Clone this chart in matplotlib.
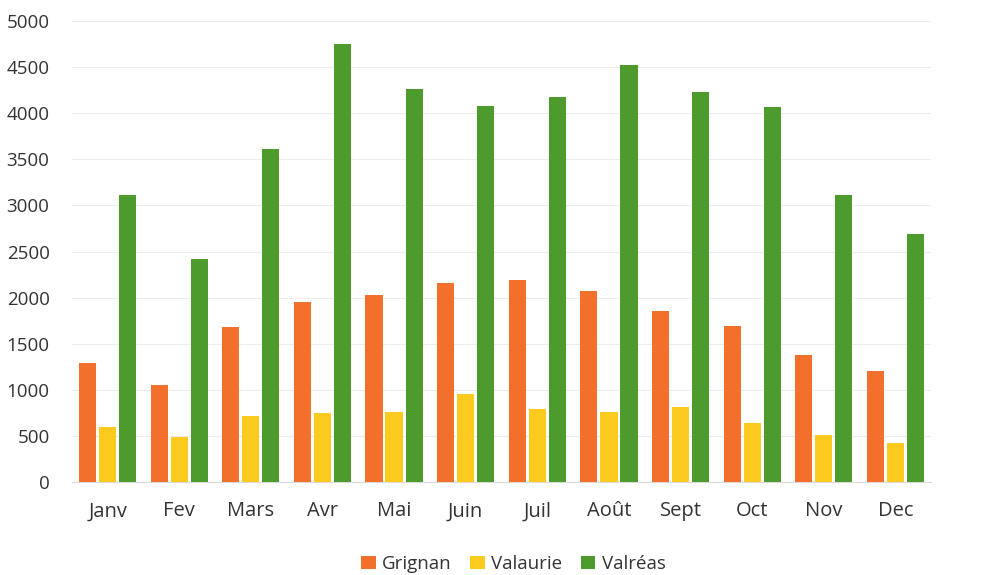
import matplotlib
matplotlib.use("Agg")
import matplotlib.pyplot as plt
import numpy as np

months = ["Janv", "Fev", "Mars", "Avr", "Mai", "Juin", "Juil", "Août", "Sept", "Oct", "Nov", "Dec"]
grignan = [1290, 1050, 1685, 1950, 2030, 2160, 2190, 2070, 1855, 1690, 1375, 1205]
valaurie = [600, 490, 715, 745, 760, 950, 790, 760, 815, 635, 505, 425]
valreas = [3110, 2415, 3610, 4750, 4260, 4080, 4175, 4525, 4225, 4065, 3115, 2690]
series_names = ["Grignan", "Valaurie", "Valréas"]
colors = ["#F26F2C", "#FCCB1E", "#4E9B2D"]
yticks = [0, 500, 1000, 1500, 2000, 2500, 3000, 3500, 4000, 4500, 5000]

plt.rcParams['font.family'] = ['Open Sans', 'DejaVu Sans']

fig = plt.figure(figsize=(9.97, 5.75), dpi=100)
ax = fig.add_axes([0.072, 0.1617, 0.862, 0.8017])

x = np.arange(len(months))
w = 0.24
off = 0.28
for i, (vals, name, c) in enumerate(zip([grignan, valaurie, valreas], series_names, colors)):
    ax.bar(x + (i - 1) * off, vals, width=w, color=c, label=name, zorder=3)

ax.set_xlim(-0.5, len(months) - 0.5)
ax.set_ylim(0, 5000)
ax.set_yticks(yticks)
ax.set_yticklabels([str(v) for v in yticks], fontsize=13.5, color="#333333")
ax.set_xticks(x)
ax.set_xticklabels(months, fontsize=14.5, color="#333333")
ax.tick_params(axis="both", length=0)
ax.tick_params(axis="x", pad=14)
ax.tick_params(axis="y", pad=16)
ax.grid(axis="y", color="#EDEDED", linewidth=0.8, zorder=0)
for s in ["top", "right", "left"]:
    ax.spines[s].set_visible(False)
ax.spines["bottom"].set_color("#D9D9D9")

leg = fig.legend(loc="lower center", bbox_to_anchor=(0.515, -0.026), ncol=3, frameon=False,
                 fontsize=13.5, handlelength=0.75, handleheight=0.75, handletextpad=0.35,
                 columnspacing=1.0)
for t in leg.get_texts():
    t.set_color("#333333")

fig.savefig("out.png", dpi=100)
